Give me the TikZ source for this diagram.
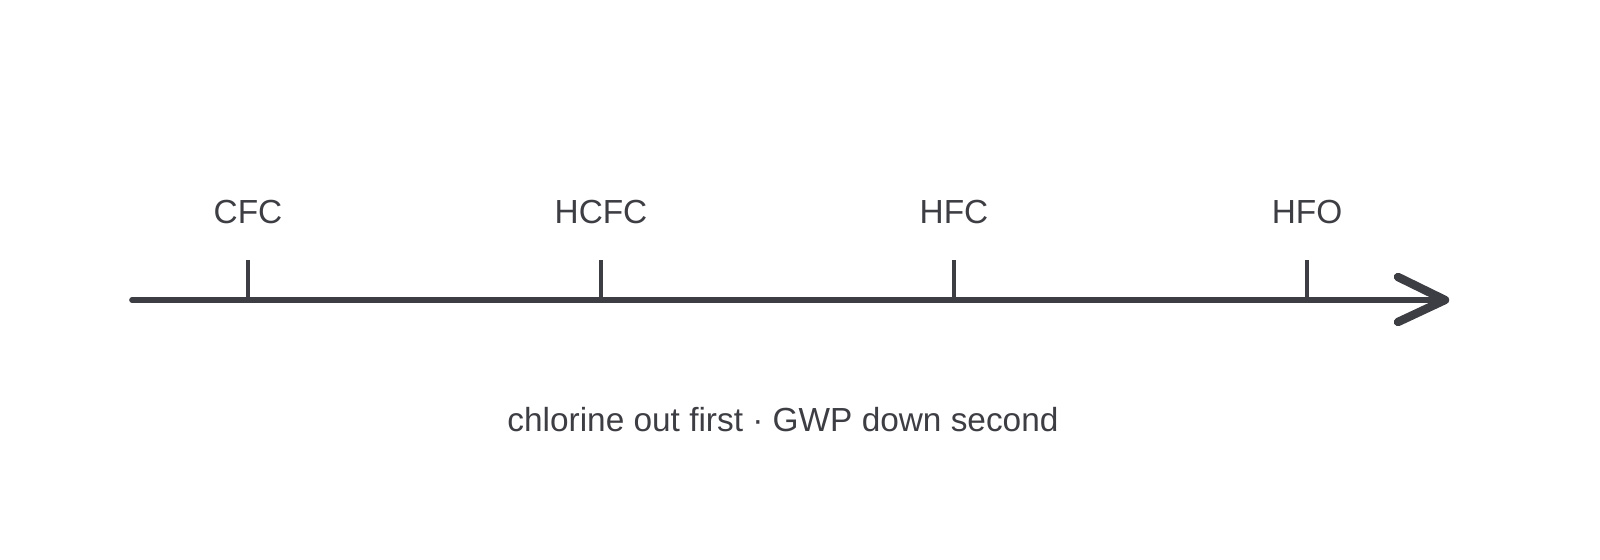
\documentclass[tikz,border=0pt]{standalone}
\usepackage{fontspec}
\setmainfont{Liberation Sans}
\usetikzlibrary{calc}
\definecolor{ink}{RGB}{61,61,68}
\tikzset{
    axisline/.style={draw=ink, line width=3.2pt, line cap=round},
    tickline/.style={draw=ink, line width=2pt},
    tiplines/.style={draw=ink, line width=4.8pt, line cap=round, line join=round},
    gaslabel/.style={text=ink, font=\fontsize{19}{22}\selectfont, anchor=center},
    caption/.style={text=ink, font=\fontsize{19}{22}\selectfont, anchor=center}
}
\begin{document}
\begin{tikzpicture}[x=0.02cm, y=-0.02cm]
    \useasboundingbox (0,0) rectangle (1600,560);
    \coordinate (a-start) at (132,300);
    \coordinate (a-end) at (1445,300);
    \draw[axisline] (a-start) -- (a-end);
    \draw[tiplines] ($(a-end)+(-47,-23)$) -- (a-end) -- ($(a-end)+(-47,22)$);
    \foreach[count=\i] \gas/\xi in {CFC/248,HCFC/601,HFC/954,HFO/1307} {
        \coordinate (t-\i) at (\xi,300);
        \coordinate (t-\i-top) at (\xi,260);
        \draw[tickline] (t-\i) -- (t-\i-top);
        \node[gaslabel] (l-\i) at (\xi,212) {\gas};
    }
    \node[caption] (note) at (783,420) {chlorine out first · GWP down second};
\end{tikzpicture}
\end{document}
